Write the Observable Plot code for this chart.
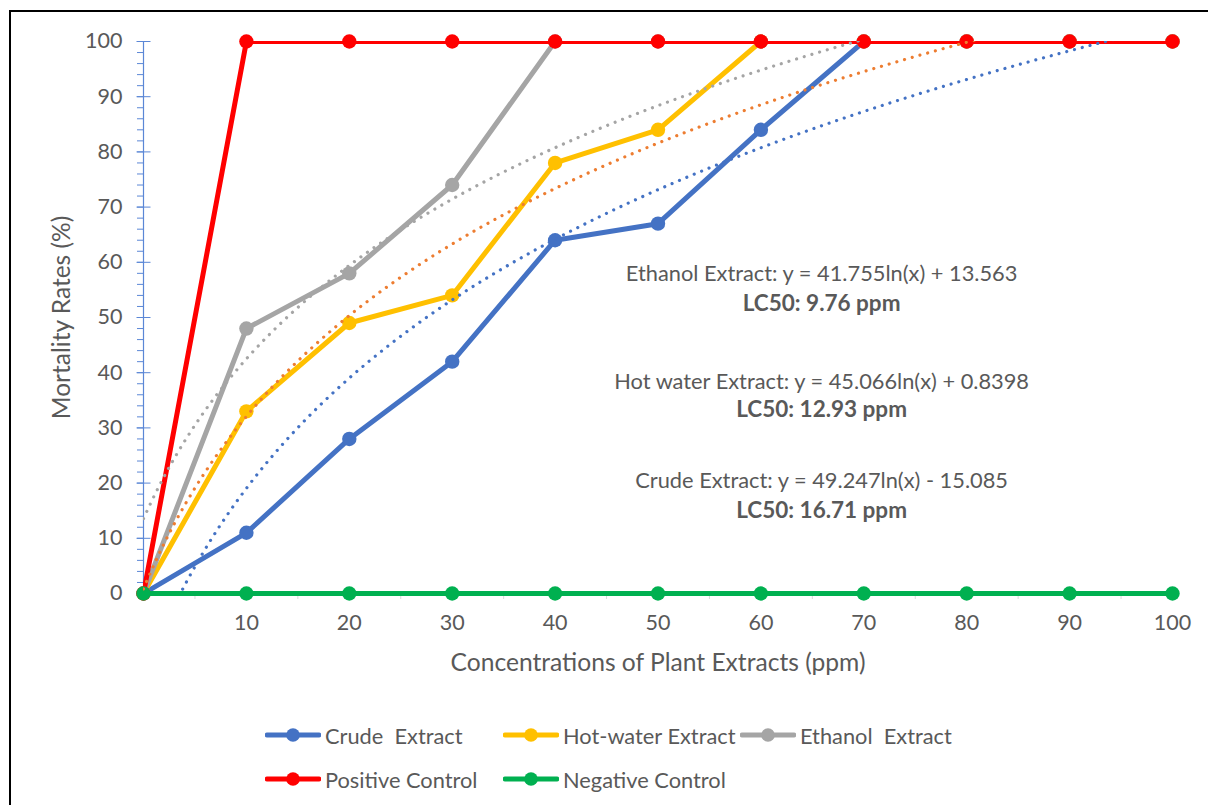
<!DOCTYPE html>
<html>
<head>
<meta charset="utf-8">
<script src="https://cdn.jsdelivr.net/npm/d3@7"></script>
<script src="https://cdn.jsdelivr.net/npm/@observablehq/plot@0.6"></script>
<style>
  html, body { margin: 0; padding: 0; background: #fff; }
  #wrap { position: relative; width: 1208px; height: 805px; overflow: hidden; font-family: Lato, "Open Sans", sans-serif; }
  #frame { position: absolute; left: 9px; top: 10px; width: 1400px; height: 1000px; border: 2.5px solid #000; box-sizing: border-box; }
  #chart { position: absolute; left: 0; top: 0; }
  .leg { position: absolute; display: flex; align-items: center; height: 26px; color: #595959; font-size: 21.8px; white-space: pre; }
  .leg svg { margin-right: 4px; }
</style>
</head>
<body>
<div id="wrap">
  <div id="frame"></div>
  <div id="chart"></div>
  <div id="legend"></div>
</div>
<script>
// ---- data ----
const ppm = [0, 10, 20, 30, 40, 50, 60, 70, 80, 90, 100];
const crude    = [0, 11, 28, 42, 64, 67, 84, 100, 100, 100, 100];
const hotWater = [0, 33, 49, 54, 78, 84, 100, 100, 100, 100, 100];
const ethanol  = [0, 48, 58, 74, 100, 100, 100, 100, 100, 100, 100];
const positive = [0, 100, 100, 100, 100, 100, 100, 100, 100, 100, 100];
const negative = [0, 0, 0, 0, 0, 0, 0, 0, 0, 0, 0];

const seriesNames  = ["Crude  Extract", "Hot-water Extract", "Ethanol  Extract", "Positive Control", "Negative Control"];
const seriesValues = [crude, hotWater, ethanol, positive, negative];
const seriesColors = ["#4472C4", "#FFC000", "#A5A5A5", "#FF0000", "#00B050"];

// logarithmic trendlines as printed on the chart (x = category index 1..11)
const trendNames      = ["Crude Extract", "Hot water Extract", "Ethanol Extract"];
const trendSlopes     = [49.247, 45.066, 41.755];
const trendIntercepts = [-15.085, 0.8398, 13.563];
const trendColors     = ["#4472C4", "#ED7D31", "#A5A5A5"];
const lc50            = ["16.71", "12.93", "9.76"];

const xTickLabels = [10, 20, 30, 40, 50, 60, 70, 80, 90, 100];
const yTickLabels = [0, 10, 20, 30, 40, 50, 60, 70, 80, 90, 100];
const xTitle = "Concentrations of Plant Extracts (ppm)";
const yTitle = "Mortality Rates (%)";

// annotation anchors (data units)
const annoX = [65.9, 65.9, 65.9];
const annoEqY  = [20.3, 38.4, 57.8];
const annoLcY  = [15.0, 33.2, 52.5];
const annoEqText = [
  "Crude Extract: y = 49.247ln(x) - 15.085",
  "Hot water Extract: y = 45.066ln(x) + 0.8398",
  "Ethanol Extract: y = 41.755ln(x) + 13.563"
];

// ---- build tables ----
const series = seriesNames.map((name, i) => ({
  name, color: seriesColors[i],
  rows: ppm.map((x, j) => ({x, y: seriesValues[i][j]}))
}));

const trendSteps = d3.range(0, 100.001, 0.25);
const trends = trendNames.map((name, i) => ({
  name, color: trendColors[i],
  rows: trendSteps.map(x => ({x, y: trendSlopes[i] * Math.log(x / 10 + 1) + trendIntercepts[i]}))
}));

const annos = annoEqText.map((t, i) => ({x: annoX[i], yEq: annoEqY[i], yLc: annoLcY[i], eq: t, lc: `LC50: ${lc50[i]} ppm`}));

const axisBlue = "#5B87D6";
const textGray = "#595959";

const marks = [
  Plot.axisX({ticks: d3.range(5, 100, 10), tickSize: 6, stroke: "#D9D9D9", tickFormat: () => "", label: null}),
  Plot.axisX({ticks: xTickLabels, tickSize: 0, tickPadding: 21, fontSize: 21.5, fill: textGray, label: null}),
  Plot.axisY({ticks: d3.range(0, 101, 2), tickSize: 6, stroke: axisBlue, tickFormat: () => "", label: null}),
  Plot.axisY({ticks: yTickLabels, tickSize: 14, dx: 7.5, stroke: axisBlue, tickFormat: () => "", label: null}),
  Plot.axisY({ticks: yTickLabels, tickSize: 0, tickPadding: 21, fontSize: 21.5, fill: textGray, label: null}),
  Plot.ruleX([0], {stroke: axisBlue, strokeWidth: 1.2}),
  Plot.text([yTitle], {frameAnchor: "left", dx: -81, rotate: -90, textAnchor: "middle", lineAnchor: "middle", fontSize: 24.5, fill: textGray}),
  Plot.text([xTitle], {frameAnchor: "bottom", dy: 70, textAnchor: "middle", lineAnchor: "middle", fontSize: 24.6, fill: textGray})
];

series.forEach((s, i) => {
  marks.push(Plot.line(s.rows, {x: "x", y: "y", stroke: s.color, strokeWidth: 5, clip: i !== 4}));
  marks.push(Plot.dot(s.rows, {x: "x", y: "y", r: 7.2, fill: s.color, stroke: null}));
});

trends.forEach(t => {
  marks.push(Plot.line(t.rows, {x: "x", y: "y", stroke: t.color, strokeWidth: 3.2, strokeDasharray: "0.01 8", strokeLinecap: "round", clip: true}));
});

marks.push(Plot.text(annos, {x: "x", y: "yEq", text: "eq", fontSize: 21.8, fill: textGray}));
marks.push(Plot.text(annos, {x: "x", y: "yLc", text: "lc", fontSize: 22.5, fontWeight: "bold", fill: textGray}));

const chart = Plot.plot({
  width: 1208, height: 700,
  marginLeft: 143, marginRight: 36, marginTop: 41, marginBottom: 107,
  x: {domain: [0, 100], axis: null},
  y: {domain: [0, 100], axis: null},
  style: {fontFamily: "Lato, 'Open Sans', sans-serif", background: "transparent", overflow: "visible"},
  marks
});
document.getElementById("chart").appendChild(chart);

// ---- legend ----
const legendCols = [265, 503, 740];
const legendRows = [735, 779];
const legendPos = [[0,0],[0,1],[0,2],[1,0],[1,1]];
const legend = document.getElementById("legend");
series.forEach((s, i) => {
  const [r, c] = legendPos[i];
  const item = document.createElement("div");
  item.className = "leg";
  item.style.left = legendCols[c] + "px";
  item.style.top = (legendRows[r] - 13) + "px";
  item.innerHTML = `<svg width="56" height="16"><line x1="2" y1="8" x2="54" y2="8" stroke="${s.color}" stroke-width="4.8" stroke-linecap="round"/><circle cx="28" cy="8" r="6.8" fill="${s.color}"/></svg>`;
  const span = document.createElement("span");
  span.textContent = s.name;
  item.appendChild(span);
  legend.appendChild(item);
});
</script>
</body>
</html>
